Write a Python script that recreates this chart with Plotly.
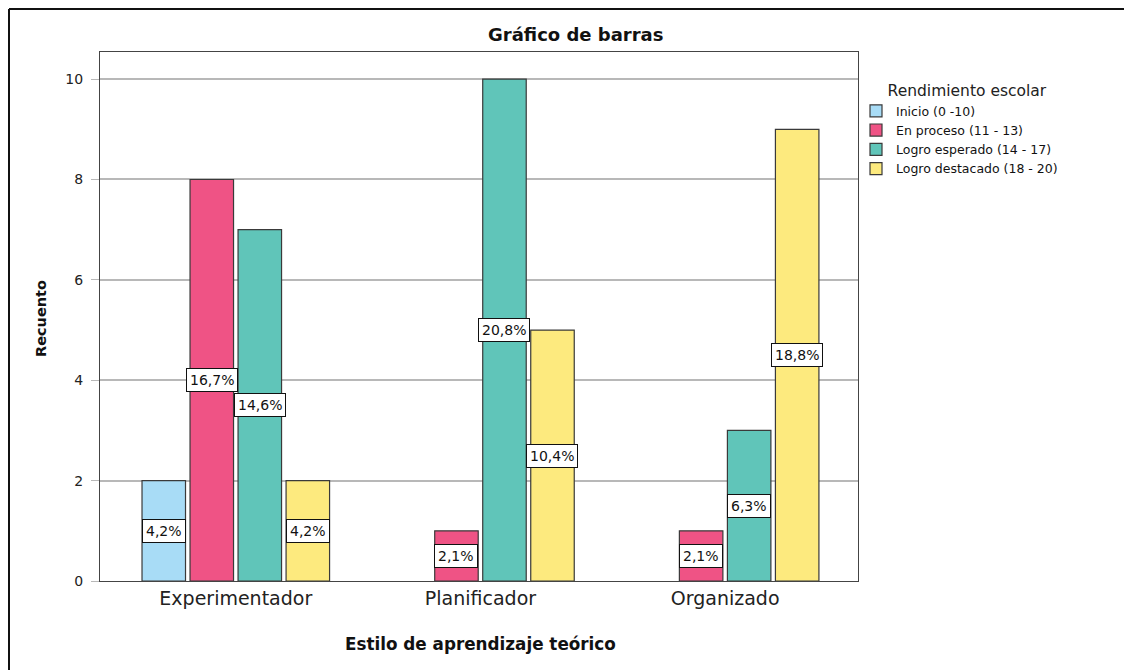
import plotly.graph_objects as go

categories = ["Experimentador", "Planificador", "Organizado"]
series_names = ["Inicio (0 -10)", "En proceso (11 - 13)", "Logro esperado (14 - 17)", "Logro destacado (18 - 20)"]
inicio = [2, 0, 0]
en_proceso = [8, 1, 1]
logro_esperado = [7, 10, 3]
logro_destacado = [2, 5, 9]
percent_labels = [
    ["4,2%", "", ""],
    ["16,7%", "2,1%", "2,1%"],
    ["14,6%", "20,8%", "6,3%"],
    ["4,2%", "10,4%", "18,8%"],
]
series_values = [inicio, en_proceso, logro_esperado, logro_destacado]
colors = ["#a8dcf6", "#ef5385", "#60c5b9", "#fdea7e"]

OFF = 8  # page body margin offset
W, H = 1132 - OFF, 670 - OFF
L, R, T, B = 100 - OFF, 858 - OFF, 52 - OFF, 581 - OFF  # plot area in figure px
bargap = 0.215
bargroupgap = 0.094
FONT = "DejaVu Sans, Arial, sans-serif"

fig = go.Figure()
for name, vals, col in zip(series_names, series_values, colors):
    fig.add_trace(go.Bar(
        x=list(range(len(categories))), y=vals, name=name,
        marker=dict(color=col, line=dict(color="#3a3a3a",
                                         width=[1.2 if v > 0 else 0 for v in vals])),
    ))

n = len(series_values)
slot = (1 - bargap) / n
annotations = []
for j, (vals, labs) in enumerate(zip(series_values, percent_labels)):
    for i, (v, lab) in enumerate(zip(vals, labs)):
        if v <= 0 or not lab:
            continue
        xc = i - (1 - bargap) / 2 + slot * (j + 0.5)
        annotations.append(dict(
            x=xc, y=v / 2, xref="x", yref="y", text=lab, showarrow=False,
            xanchor="center", yanchor="middle",
            font=dict(family=FONT, size=14, color="#111"),
            bgcolor="white", bordercolor="#111", borderwidth=1, borderpad=3,
        ))

def px_x(p):  # page px -> paper
    return (p - OFF - L) / (R - L)

def px_y(p):
    return (B - (p - OFF)) / (B - T)

annotations += [
    dict(text="<b>Gráfico de barras</b>", x=px_x(575), y=px_y(35), xref="paper", yref="paper",
         xanchor="center", yanchor="middle", showarrow=False,
         font=dict(family=FONT, size=18, color="#111")),
    dict(text="<b>Recuento</b>", x=px_x(41), y=px_y(319), xref="paper", yref="paper", textangle=-90,
         xanchor="center", yanchor="middle", showarrow=False,
         font=dict(family=FONT, size=14.5, color="#111")),
    dict(text="<b>Estilo de aprendizaje teórico</b>", x=px_x(480), y=px_y(644), xref="paper", yref="paper",
         xanchor="center", yanchor="middle", showarrow=False,
         font=dict(family=FONT, size=16.8, color="#111")),
]

shapes = [
    dict(type="line", xref="paper", yref="paper", x0=px_x(9), x1=px_x(1140), y0=px_y(9), y1=px_y(9),
         line=dict(color="#111", width=2)),
    dict(type="line", xref="paper", yref="paper", x0=px_x(9), x1=px_x(9), y0=px_y(9), y1=px_y(700),
         line=dict(color="#111", width=2)),
]

fig.update_layout(
    width=W, height=H,
    margin=dict(l=L, r=W - R, t=T, b=H - B, pad=0),
    paper_bgcolor="white", plot_bgcolor="white",
    barmode="group", bargap=bargap, bargroupgap=bargroupgap,
    font=dict(family=FONT, color="#222"),
    annotations=annotations, shapes=shapes,
    showlegend=True,
    legend=dict(
        x=px_x(856), y=px_y(76), xanchor="left", yanchor="top",
        title=dict(text="      Rendimiento escolar", font=dict(family=FONT, size=15.5, color="#222")),
        font=dict(family=FONT, size=12.5, color="#111"), tracegroupgap=0, itemwidth=30,
        bgcolor="rgba(0,0,0,0)",
    ),
)
fig.update_xaxes(
    tickmode="array", tickvals=list(range(len(categories))), ticktext=categories,
    range=[-0.555, 2.543], showgrid=False, zeroline=False,
    showline=True, mirror=True, linecolor="#444", linewidth=1.2,
    ticks="", tickfont=dict(family=FONT, size=19, color="#222"),
)
fig.update_yaxes(
    range=[0, 10.54], tickvals=[0, 2, 4, 6, 8, 10], showgrid=True, gridcolor="#b8b8b8", gridwidth=1.5,
    zeroline=False, showline=True, mirror=True, linecolor="#444", linewidth=1.2,
    ticks="outside", ticklen=8, tickcolor="#b8b8b8", ticklabelstandoff=5,
    tickfont=dict(family=FONT, size=14, color="#222"),
)

fig.write_html("out.html")
